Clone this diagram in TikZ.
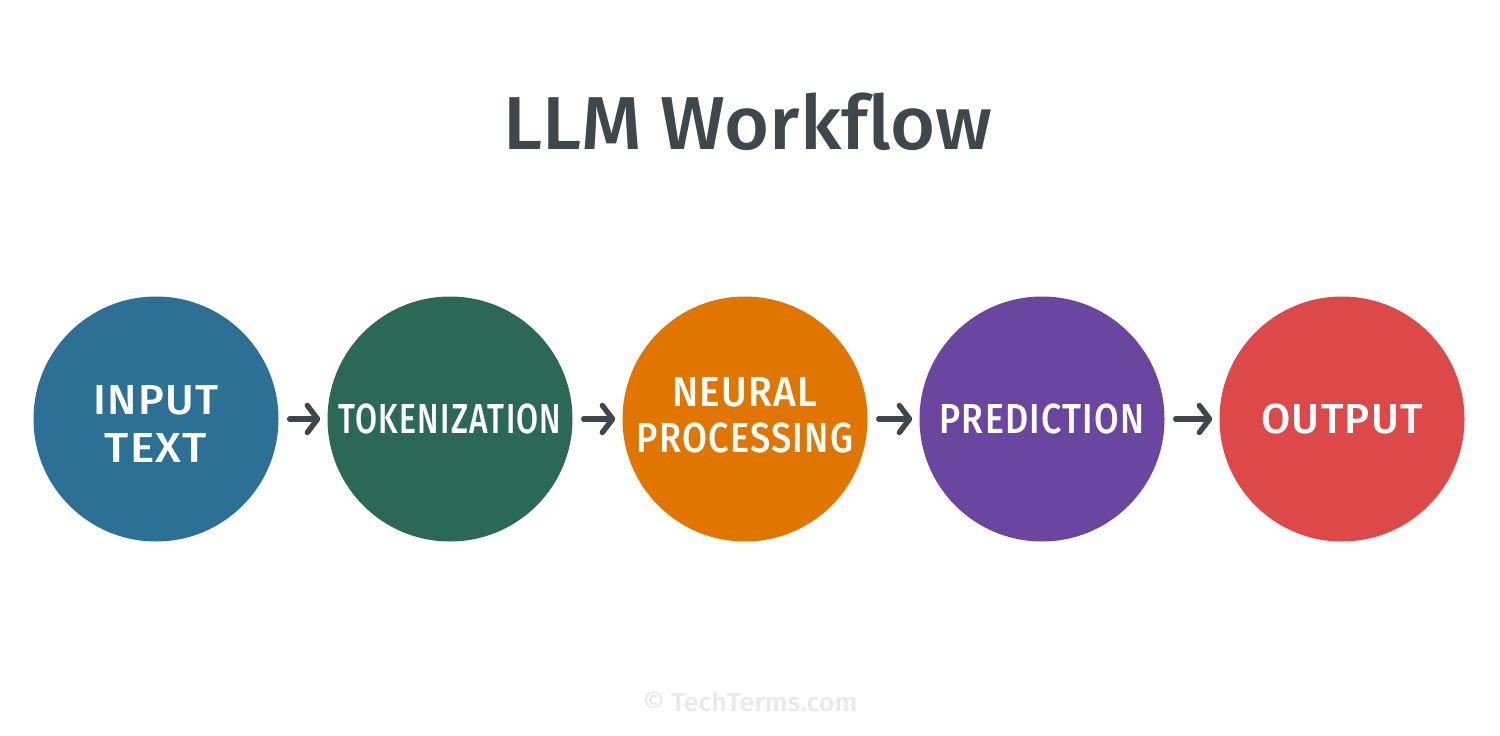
\documentclass[tikz,border=0pt]{standalone}
\usepackage{fontspec}
\setmainfont{Noto Sans}
\newfontfamily\titlefont[Ligatures=NoCommon,FakeStretch=1.03]{Fira Sans Medium}
\newfontfamily\stagefont[LetterSpace=3]{Fira Sans Medium}
\usepackage{xcolor}
\usetikzlibrary{arrows.meta, positioning}
\definecolor{inputblue}{RGB}{44,112,150}
\definecolor{tokengreen}{RGB}{44,104,86}
\definecolor{neuralorange}{RGB}{224,117,0}
\definecolor{predictpurple}{RGB}{106,70,160}
\definecolor{outputred}{RGB}{221,72,72}
\definecolor{inkgray}{RGB}{63,70,76}
\newcommand{\squeezed}[2]{{\addfontfeature{FakeStretch=#1}#2}}
\tikzset{
    stage/.style={circle, minimum size=245pt, inner sep=0pt, text=white, align=center, font=\stagefont\fontsize{42}{46}\selectfont},
    stagetext/.style={text=white, align=center, font=\stagefont\fontsize{42}{46}\selectfont},
    flowarrow/.style={-{Straight Barb[length=3.6mm,width=9.5mm,line width=1.9mm,round]}, line width=1.9mm, draw=inkgray, line cap=round, shorten <=11pt, shorten >=7pt}
}
\begin{document}
\begin{tikzpicture}[x=1pt,y=-1pt]
    \useasboundingbox (0,0) rectangle (1500,736);
    % Title
    \node[font=\titlefont\fontsize{75}{80}\selectfont, text=inkgray] (title) at (748,122) {LLM Workflow};
    % Stages
    \node[stage, fill=inputblue, label={[stagetext, yshift=-5pt]center:{\squeezed{1.04}{INPUT}\\[2pt]\squeezed{1.09}{TEXT}}}] (input) at (156,419) {};
    \node[stage, fill=tokengreen] (token) at (450,419) {\squeezed{0.76}{TOKENIZATION}};
    \node[stage, fill=neuralorange, label={[stagetext, yshift=4pt]center:{\squeezed{0.93}{NEURAL}\\\squeezed{0.86}{PROCESSING}}}] (neural) at (745,419) {};
    \node[stage, fill=predictpurple] (predict) at (1042,419) {\squeezed{0.85}{PREDICTION}};
    \node[stage, fill=outputred] (output) at (1342,419) {\squeezed{1.01}{OUTPUT}};
    % Arrows between stages
    \draw[flowarrow] (input) -- (token);
    \draw[flowarrow] (token) -- (neural);
    \draw[flowarrow] (neural) -- (predict);
    \draw[flowarrow] (predict) -- (output);
    % Footer
    \node[font=\titlefont\fontsize{26}{30}\selectfont, text=inkgray!12] (credit) at (750,702) {© TechTerms.com};
\end{tikzpicture}
\end{document}
